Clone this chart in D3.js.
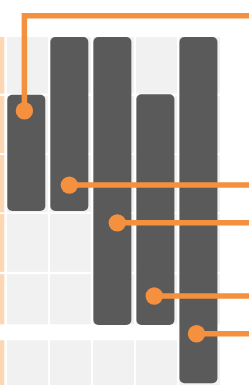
<!DOCTYPE html>
<head>
  <meta charset="utf-8">
  <script src="https://d3js.org/d3.v7.min.js"></script>
  <style>
    body { margin:0; background:#fff; overflow:hidden; }
    .cell { fill: #f1f1f1; }
    .strip { fill: #fdd6b4; }
    .bar { fill: #5a5a5a; }
    .leader { fill: none; stroke: #f5913e; stroke-width: 5.5px; }
    .dot { fill: #f5913e; }
  </style>
</head>

<body>
  <script>
    var width = 249, height = 385;

    // columns
    var columns = ["A", "B", "C", "D", "E"];

    // background rows (in row units)
    var rowStarts = [0, 1, 2, 3, 4.02, 5.14];
    var rowEnds   = [0.96, 1.97, 2.97, 3.98, 4.87, 6.3];

    // floating bars
    var barStarts = [0.98, 0, 0, 0.97, 0];
    var barEnds   = [2.95, 2.95, 4.88, 4.88, 5.87];

    // markers and their callouts
    var markerValues = [1.25, 2.51, 3.15, 4.39, 5.03];
    var markerPos    = [0.45, 0.5, 0.63, 0.47, 0.45];
    var calloutY     = [-0.36, 2.51, 3.15, 4.39, 5.03];

    var svg = d3.select("body").append("svg")
      .attr("width", width)
      .attr("height", height);

    var xScale = d3.scaleBand()
      .domain(columns)
      .range([7, 220])
      .paddingInner(0.05)
      .paddingOuter(0);

    var yScale = d3.scaleLinear()
      .domain([0, 6])
      .range([37, 37 + 6 * 59]);

    var rows = rowStarts.map(function(s, i) { return { start: s, end: rowEnds[i] }; });

    // left strip
    svg.selectAll(".strip")
      .data(rows)
      .enter()
      .append("rect")
      .attr("class", "strip")
      .attr("x", 0)
      .attr("width", 4.3)
      .attr("y", function(d) { return yScale(d.start); })
      .attr("height", function(d) { return yScale(d.end) - yScale(d.start); });

    // grid cells
    var cells = [];
    columns.forEach(function(c) {
      rows.forEach(function(r) { cells.push({ col: c, start: r.start, end: r.end }); });
    });
    svg.selectAll(".cell")
      .data(cells)
      .enter()
      .append("rect")
      .attr("class", "cell")
      .attr("x", function(d) { return xScale(d.col); })
      .attr("width", xScale.bandwidth())
      .attr("y", function(d) { return yScale(d.start); })
      .attr("height", function(d) { return yScale(d.end) - yScale(d.start); });

    var data = columns.map(function(c, i) {
      return {
        name: c,
        start: barStarts[i],
        end: barEnds[i],
        value: markerValues[i],
        pos: markerPos[i],
        label: calloutY[i]
      };
    });

    var barW = 38;

    svg.selectAll(".bar")
      .data(data)
      .enter()
      .append("rect")
      .attr("class", "bar")
      .attr("x", function(d) { return xScale(d.name) + 0.3; })
      .attr("width", barW)
      .attr("y", function(d) { return yScale(d.start); })
      .attr("height", function(d) { return yScale(d.end) - yScale(d.start); })
      .attr("rx", 5)
      .attr("ry", 5);

    function dotX(d) { return xScale(d.name) + 0.3 + barW * d.pos; }

    svg.selectAll(".leader")
      .data(data)
      .enter()
      .append("path")
      .attr("class", "leader")
      .attr("d", function(d) {
        var p = d3.path();
        p.moveTo(dotX(d), yScale(d.value));
        p.lineTo(dotX(d), yScale(d.label));
        p.lineTo(width + 10, yScale(d.label));
        return p.toString();
      });

    svg.selectAll(".dot")
      .data(data)
      .enter()
      .append("circle")
      .attr("class", "dot")
      .attr("cx", dotX)
      .attr("cy", function(d) { return yScale(d.value); })
      .attr("r", 8.7);
  </script>
</body>
